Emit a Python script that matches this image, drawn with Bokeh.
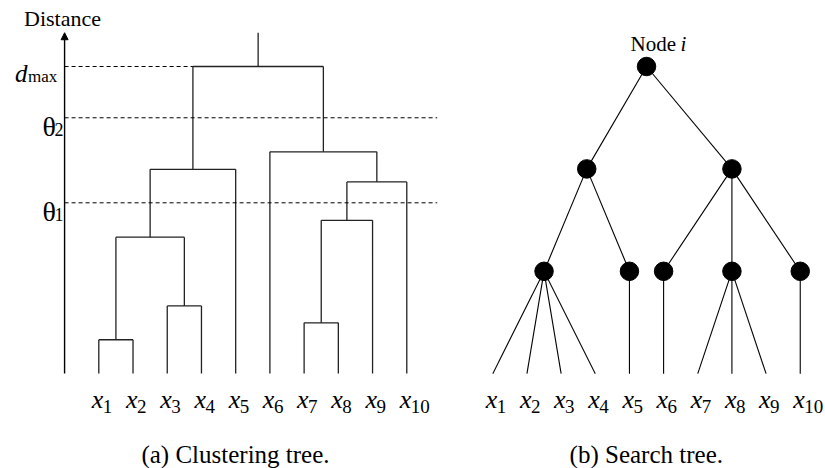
from bokeh.plotting import figure
from bokeh.models import Range1d, Arrow, NormalHead
from bokeh.core.properties import value
from bokeh.embed import file_html
from bokeh.resources import INLINE

# ---------------- data ----------------
leaf_ids = ["1", "2", "3", "4", "5", "6", "7", "8", "9", "10"]

# (a) clustering tree: merges in order; ids 0-9 are leaves, 10+ are earlier merges
merge_left = [0, 2, 10, 12, 6, 14, 15, 5, 13]
merge_right = [1, 3, 11, 4, 7, 8, 9, 16, 17]
merge_dist = [1.10, 2.20, 4.44, 6.65, 1.65, 4.99, 6.24, 7.22, 10.0]
root_stub_top = 11.1
axis_top = 11.1
d_max = 10.0
theta_vals = [5.56, 8.33]
theta_subs = ["1", "2"]

# (b) search tree: level-2 nodes (leaf numbers), level-1 nodes (level-2 indices)
level2_children = [[1, 2, 3, 4], [5], [6], [7, 8, 9], [10]]
level1_children = [[0, 1], [2, 3, 4]]

captions = ["(a) Clustering tree.", "(b) Search tree."]

# ---------------- layout helpers (page pixels -> data) ----------------
W, H = 825, 468
M = 0


def serif():
    return value("Liberation Serif")


def lx(px):
    return 1 + (px - 98.3) / 34.22


def ly(py):
    return (373 - py) / 30.7


def rx(px):
    return 1 + (px - 492.3) / 34.16


def ry(py):
    return (py - 66) / 102.4


p = figure(width=W, height=H, title=None,
           x_range=Range1d(lx(M), lx(M + W)), y_range=Range1d(ly(M + H), ly(M)),
           output_backend="svg", toolbar_location=None, min_border=0,
           x_axis_location=None, y_axis_location=None,
           outline_line_color=None, background_fill_color="white",
           border_fill_color="white")
p.extra_x_ranges = {"r": Range1d(rx(M), rx(M + W))}
p.extra_y_ranges = {"r": Range1d(ry(M + H), ry(M))}
for g in p.grid:
    g.visible = False


def label(x, y, text, size, align="left", italic=False, rng=False, **kw):
    extra = dict(x_range_name="r", y_range_name="r") if rng else {}
    p.text(x=x, y=y, text=text, text_font=serif(),
           text_font_style="italic" if italic else "normal",
           text_font_size=size, text_align=align, text_baseline="alphabetic",
           text_color="black", **extra, **kw)


# ---------------- (a) clustering tree ----------------
n = len(leaf_ids)
pos = [float(i) for i in range(1, n + 1)]
hgt = [0.0] * n
x0s, y0s, x1s, y1s = [], [], [], []
for a, b, d in zip(merge_left, merge_right, merge_dist):
    for c in (a, b):
        x0s.append(pos[c]); y0s.append(hgt[c]); x1s.append(pos[c]); y1s.append(d)
    x0s.append(pos[a]); y0s.append(d); x1s.append(pos[b]); y1s.append(d)
    pos.append((pos[a] + pos[b]) / 2)
    hgt.append(d)
x0s.append(pos[-1]); y0s.append(hgt[-1]); x1s.append(pos[-1]); y1s.append(root_stub_top)
p.segment(x0s, y0s, x1s, y1s, line_color="#222222", line_width=1.3)

# dashed threshold lines
root_left_x = pos[merge_left[-1]]
line_end = lx(436.7)
p.segment([0, 0, 0], [d_max] + theta_vals, [root_left_x, line_end, line_end],
          [d_max] + theta_vals, line_color="black", line_width=1, line_dash="4 3")

# axis with arrow
p.add_layout(Arrow(x_start=0, y_start=0, x_end=0, y_end=axis_top,
                   line_color="black", line_width=1.4,
                   end=NormalHead(size=7, fill_color="black", line_color="black")))

label([lx(62)], [ly(18)], ["Distance"], "22px", align="center")
label([lx(27)], [ly(73)], ["d"], "25px", align="right", italic=True)
label([lx(27.5)], [ly(75.5)], ["max"], "17px")
px_unit = 1 / 30.7
label([lx(55.5)] * 2, [t - 9 * px_unit for t in theta_vals], ["θ", "θ"], "28px",
      align="right")
label([lx(54)] * 2, [t - 12 * px_unit for t in theta_vals], theta_subs, "18px")

leaf_x = list(range(1, n + 1))
label(leaf_x, [-25.5 * px_unit] * n, ["x"] * n, "26px", align="right", italic=True,
      x_offset=4.5)
label(leaf_x, [-33 * px_unit] * n, leaf_ids, "19px", x_offset=4)
label([lx(235)], [ly(454)], [captions[0]], "25px", align="center")

# ---------------- (b) search tree ----------------
lvl2_x = [(min(c) + max(c)) / 2 for c in level2_children]
lvl1_x = [(min(lvl2_x[j] for j in c) + max(lvl2_x[j] for j in c)) / 2
          for c in level1_children]
root_x = (1 + n) / 2

ex0, ey0, ex1, ey1 = [], [], [], []
for x1 in lvl1_x:
    ex0.append(root_x); ey0.append(0); ex1.append(x1); ey1.append(1)
for i, c in enumerate(level1_children):
    for j in c:
        ex0.append(lvl1_x[i]); ey0.append(1); ex1.append(lvl2_x[j]); ey1.append(2)
for j, c in enumerate(level2_children):
    for leaf in c:
        ex0.append(lvl2_x[j]); ey0.append(2); ex1.append(leaf); ey1.append(3)
p.segment(ex0, ey0, ex1, ey1, line_color="black", line_width=1.1,
          x_range_name="r", y_range_name="r")

node_x = [root_x] + lvl1_x + lvl2_x
node_y = [0] + [1] * len(lvl1_x) + [2] * len(lvl2_x)
p.scatter(node_x, node_y, marker="circle", size=18.5, fill_color="black",
          line_color="black", x_range_name="r", y_range_name="r")

rpx = 1 / 102.4
label(leaf_x, [3 + 25.5 * rpx] * n, ["x"] * n, "26px", align="right", italic=True,
      rng=True, x_offset=4.5)
label(leaf_x, [3 + 33 * rpx] * n, leaf_ids, "19px", rng=True, x_offset=4)
label([rx(675.5)], [ry(43.3)], ["Node"], "21px", align="right", rng=True)
label([rx(680)], [ry(43.3)], ["i"], "21px", italic=True, rng=True)
label([rx(645.8)], [ry(454)], [captions[1]], "25px", align="center", rng=True)

open("out.html", "w").write(file_html(p, INLINE))
